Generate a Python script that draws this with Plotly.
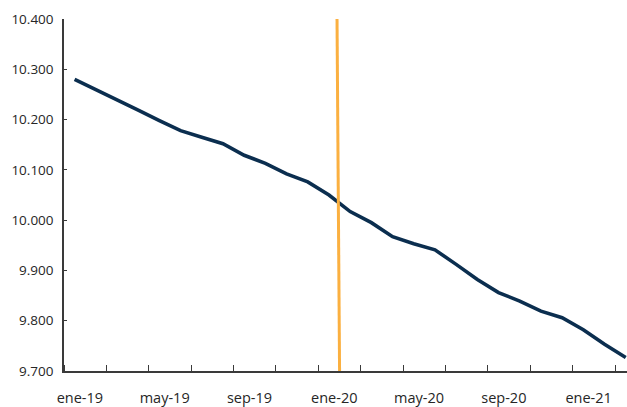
import plotly.graph_objects as go

# Monthly series, ene-19 .. mar-21
months = ["ene-19", "feb-19", "mar-19", "abr-19", "may-19", "jun-19", "jul-19", "ago-19",
          "sep-19", "oct-19", "nov-19", "dic-19", "ene-20", "feb-20", "mar-20", "abr-20",
          "may-20", "jun-20", "jul-20", "ago-20", "sep-20", "oct-20", "nov-20", "dic-20",
          "ene-21", "feb-21", "mar-21"]
values = [10280, 10260, 10240, 10219, 10198, 10178, 10165, 10152, 10129, 10113, 10092, 10076,
          10050, 10017, 9995, 9967, 9953, 9941, 9912, 9882, 9856, 9839, 9819, 9806,
          9782, 9753, 9727]

# Vertical marker line (position in month index units)
marker_x = [12.38, 12.5]
marker_y = [10400, 9700]

# Axis labels
x_label_months = ["ene-19", "may-19", "sep-19", "ene-20", "may-20", "sep-20", "ene-21"]
y_ticks = [9700, 9800, 9900, 10000, 10100, 10200, 10300, 10400]

idx = list(range(len(months)))
label_pos = [months.index(m) + 0.25 for m in x_label_months]

fig = go.Figure()
fig.add_trace(go.Scatter(
    x=idx, y=values, mode="lines",
    line=dict(color="#0B2E4F", width=3.6, shape="linear"),
    showlegend=False, hoverinfo="skip",
))
fig.add_trace(go.Scatter(
    x=marker_x, y=marker_y, mode="lines",
    line=dict(color="#FBB040", width=3),
    showlegend=False, hoverinfo="skip",
))

axis_color = "#3a3a3a"
font = dict(family="Open Sans, Noto Sans, sans-serif", size=13, color="#262626")

fig.update_layout(
    width=627, height=407,
    margin=dict(l=64, r=0, t=19, b=36),
    paper_bgcolor="white", plot_bgcolor="white",
    separators=",.",
    font=font,
    xaxis=dict(
        range=[-0.5, 26.06],
        tickmode="array", tickvals=label_pos, ticktext=x_label_months,
        tickfont=dict(size=14.5),
        ticks="", showgrid=False, zeroline=False,
        showline=True, linecolor=axis_color, linewidth=1.5,
        ticklabelstandoff=13,
        minor=dict(tickmode="linear", tick0=-0.5, dtick=2, ticks="inside",
                   ticklen=6, tickwidth=1, tickcolor=axis_color, showgrid=False),
    ),
    yaxis=dict(
        range=[9700, 10400],
        tickmode="array", tickvals=y_ticks, tickformat=",.0f",
        tickfont=dict(size=13.5),
        ticks="inside", ticklen=3, tickwidth=1, tickcolor=axis_color,
        showgrid=False, zeroline=False,
        showline=True, linecolor=axis_color, linewidth=1.5,
        ticklabelstandoff=6,
    ),
)

fig.write_html("out.html")
